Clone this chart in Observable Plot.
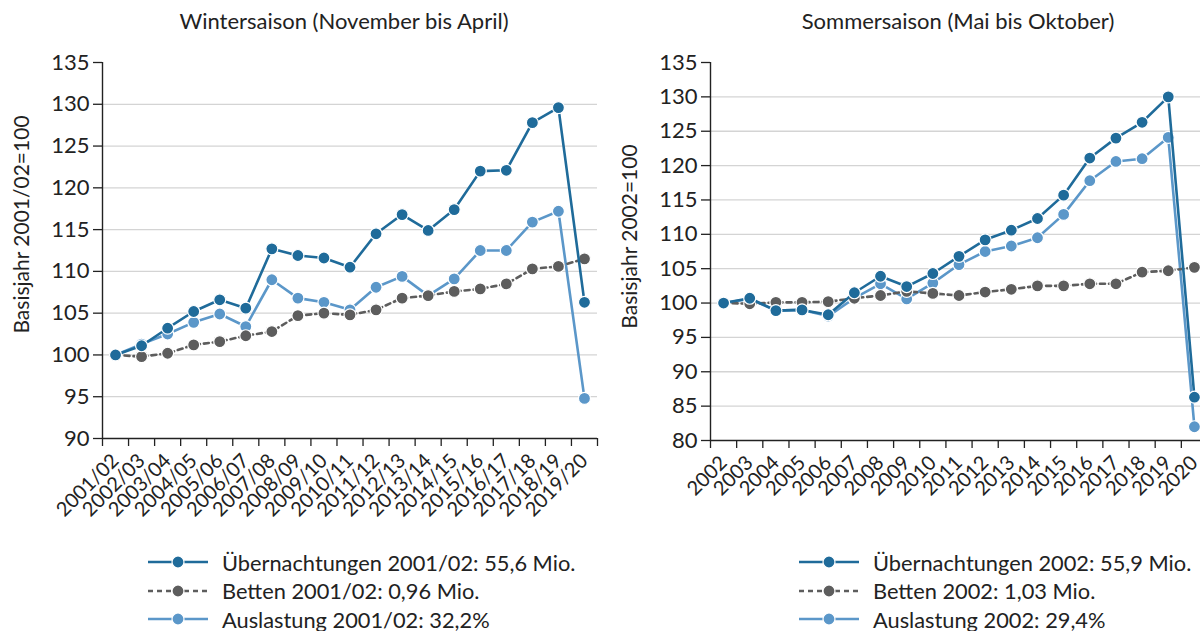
<!DOCTYPE html>
<html>
<head>
<meta charset="utf-8">
<script src="https://cdn.jsdelivr.net/npm/d3@7"></script>
<script src="https://cdn.jsdelivr.net/npm/@observablehq/plot@0.6"></script>
<style>
  html, body { margin: 0; padding: 0; background: #fff; }
  body { width: 1200px; height: 631px; overflow: hidden; position: relative; font-family: Lato, "Open Sans", sans-serif; color: #222; }
  .title { position: absolute; top: 7px; font-size: 22px; line-height: 28px; text-align: center; white-space: nowrap; transform: translateX(-50%); }
  .chart { position: absolute; top: 0; }
  .legend { position: absolute; top: 548px; font-size: 21.8px; }
  .legend .row { display: flex; align-items: center; height: 28.5px; white-space: nowrap; }
  .legend svg { flex: none; }
</style>
</head>
<body>
<script>
// ---- Data ----
const winterCats = ["2001/02","2002/03","2003/04","2004/05","2005/06","2006/07","2007/08","2008/09","2009/10","2010/11","2011/12","2012/13","2013/14","2014/15","2015/16","2016/17","2017/18","2018/19","2019/20"];
const winterUebernachtungen = [100,101.1,103.2,105.2,106.6,105.6,112.7,111.9,111.6,110.5,114.5,116.8,114.9,117.4,122.0,122.1,127.8,129.6,106.3];
const winterBetten = [100,99.8,100.2,101.2,101.6,102.3,102.8,104.7,105.0,104.8,105.4,106.8,107.1,107.6,107.9,108.5,110.3,110.6,111.5];
const winterAuslastung = [100,101.3,102.5,103.9,104.9,103.4,109.0,106.8,106.3,105.4,108.1,109.4,107.1,109.1,112.5,112.5,115.9,117.2,94.8];

const summerCats = ["2002","2003","2004","2005","2006","2007","2008","2009","2010","2011","2012","2013","2014","2015","2016","2017","2018","2019","2020"];
const summerUebernachtungen = [100,100.7,98.9,99.0,98.3,101.5,103.9,102.4,104.3,106.8,109.2,110.6,112.3,115.7,121.1,124.0,126.3,130.0,86.3];
const summerBetten = [100,99.9,100.1,100.1,100.2,100.7,101.1,101.7,101.4,101.1,101.6,102.0,102.5,102.5,102.8,102.8,104.5,104.7,105.2];
const summerAuslastung = [100,100.6,98.9,99.0,98.1,100.7,102.8,100.6,102.9,105.6,107.5,108.3,109.5,112.9,117.8,120.6,121.0,124.1,82.0];

const winterYTicks = [90,95,100,105,110,115,120,125,130,135];
const summerYTicks = [80,85,90,95,100,105,110,115,120,125,130,135];

const winterTitle = "Wintersaison (November bis April)";
const summerTitle = "Sommersaison (Mai bis Oktober)";
const winterYLabel = "Basisjahr 2001/02=100";
const summerYLabel = "Basisjahr 2002=100";
const winterLegend = ["Übernachtungen 2001/02: 55,6 Mio.", "Betten 2001/02: 0,96 Mio.", "Auslastung 2001/02: 32,2%"];
const summerLegend = ["Übernachtungen 2002: 55,9 Mio.", "Betten 2002: 1,03 Mio.", "Auslastung 2002: 29,4%"];

// ---- Styles ----
const C_UEB = "#1f6b9a";
const C_BET = "#5d5d5d";
const C_AUS = "#5b97c9";
const DASH = "5,4";

function buildChart({cats, ueb, bet, aus, yTicks, yLabel, labelDy, width, height, marginLeft, marginRight, marginTop, marginBottom}) {
  const idx = cats.map((_, i) => i);
  const rows = (vals) => vals.map((v, i) => ({i, v}));
  const yMin = yTicks[0], yMax = yTicks[yTicks.length - 1];
  const boundaries = d3.range(-0.5, cats.length, 1);
  const seriesMarks = (vals, color, dash) => [
    Plot.line(rows(vals), {x: "i", y: "v", stroke: color, strokeWidth: 2.6, strokeDasharray: dash}),
    Plot.dot(rows(vals), {x: "i", y: "v", fill: color, stroke: "#fff", strokeWidth: 1.2, r: 6})
  ];
  return Plot.plot({
    width, height, marginLeft, marginRight, marginTop, marginBottom,
    style: {fontFamily: "Lato, 'Open Sans', sans-serif", fontSize: "20px", color: "#222", background: "transparent", maxWidth: "none", overflow: "visible"},
    x: {type: "linear", domain: [-0.5, cats.length - 0.5]},
    y: {type: "linear", domain: [yMin, yMax]},
    marks: [
      Plot.gridY(yTicks.slice(1, -1), {stroke: "#d4d4d4", strokeOpacity: 1, strokeWidth: 1.3}),
      // y axis with outward ticks
      Plot.axisY(yTicks, {tickSize: 9, tickPadding: 4, fontSize: 22, stroke: "#222", strokeWidth: 1.3, label: null, fill: "#222"}),
      // x tick marks at category boundaries
      Plot.axisX(boundaries, {tickSize: 8, stroke: "#222", strokeWidth: 1.3, tickFormat: () => "", label: null}),
      // x labels at category centers, rotated
      Plot.axisX(idx, {tickSize: 0, tickPadding: 19, tickRotate: -45, tickFormat: (d) => cats[d], fontSize: 20, label: null, fill: "#222"}),
      Plot.ruleX([-0.5], {stroke: "#222", strokeWidth: 1.4}),
      Plot.ruleY([yMin], {stroke: "#222", strokeWidth: 1.4}),
      Plot.text([yLabel], {frameAnchor: "left", rotate: -90, textAnchor: "middle", dx: -80, dy: labelDy, fontSize: 21, fill: "#222", text: (d) => d}),
      ...seriesMarks(aus, C_AUS, null),
      ...seriesMarks(bet, C_BET, DASH),
      ...seriesMarks(ueb, C_UEB, null)
    ]
  });
}

function legendRow(color, dash, label) {
  const row = document.createElement("div");
  row.className = "row";
  const ns = "http://www.w3.org/2000/svg";
  const svg = document.createElementNS(ns, "svg");
  svg.setAttribute("width", 62); svg.setAttribute("height", 20);
  const line = document.createElementNS(ns, "line");
  line.setAttribute("x1", 1); line.setAttribute("x2", 61); line.setAttribute("y1", 10); line.setAttribute("y2", 10);
  line.setAttribute("stroke", color); line.setAttribute("stroke-width", 2.6);
  if (dash) line.setAttribute("stroke-dasharray", dash);
  const c = document.createElementNS(ns, "circle");
  c.setAttribute("cx", 31); c.setAttribute("cy", 10); c.setAttribute("r", 6);
  c.setAttribute("fill", color); c.setAttribute("stroke", "#fff"); c.setAttribute("stroke-width", 1.2);
  svg.appendChild(line); svg.appendChild(c);
  const span = document.createElement("span");
  span.textContent = label;
  span.style.marginLeft = "13px";
  row.appendChild(svg); row.appendChild(span);
  return row;
}

function addLegend(left, labels) {
  const div = document.createElement("div");
  div.className = "legend";
  div.style.left = left + "px";
  div.appendChild(legendRow(C_UEB, null, labels[0]));
  div.appendChild(legendRow(C_BET, DASH, labels[1]));
  div.appendChild(legendRow(C_AUS, null, labels[2]));
  document.body.appendChild(div);
}

function addTitle(cx, text) {
  const t = document.createElement("div");
  t.className = "title";
  t.style.left = cx + "px";
  t.textContent = text;
  document.body.appendChild(t);
}

// Left chart
const left = document.createElement("div");
left.className = "chart"; left.style.left = "0px";
left.appendChild(buildChart({cats: winterCats, ueb: winterUebernachtungen, bet: winterBetten, aus: winterAuslastung, yTicks: winterYTicks, yLabel: winterYLabel, labelDy: -26,
  width: 600, height: 520, marginLeft: 102, marginRight: 3, marginTop: 62, marginBottom: 82}));
document.body.appendChild(left);

// Right chart
const right = document.createElement("div");
right.className = "chart"; right.style.left = "600px";
right.appendChild(buildChart({cats: summerCats, ueb: summerUebernachtungen, bet: summerBetten, aus: summerAuslastung, yTicks: summerYTicks, yLabel: summerYLabel, labelDy: -15,
  width: 620, height: 520, marginLeft: 110, marginRight: 13, marginTop: 62, marginBottom: 80}));
document.body.appendChild(right);

addTitle(344, winterTitle);
addTitle(958, summerTitle);
addLegend(147, winterLegend);
addLegend(798, summerLegend);
</script>
</body>
</html>
